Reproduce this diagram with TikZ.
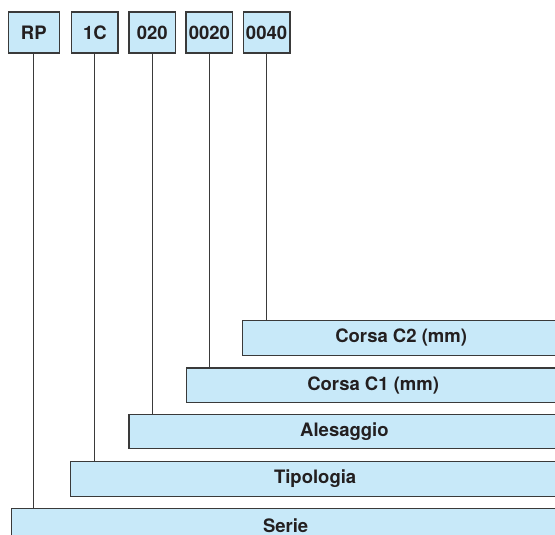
\documentclass[tikz,border=0pt]{standalone}
\usepackage{fontspec}
\setmainfont{TeX Gyre Heros}
\usetikzlibrary{positioning}
\definecolor{cink}{HTML}{231F20}
\definecolor{cline}{HTML}{3A3A3A}
\definecolor{cfill}{HTML}{C8E9F9}

\begin{document}
\begin{tikzpicture}[x=1pt,y=-1pt,
  every node/.style={font=\bfseries\fontsize{18.5}{22}\selectfont,text=cink},
  codebox/.style={draw=cline,fill=cfill,line width=1.6pt,minimum height=41pt,inner sep=0pt,anchor=north west},
  fieldbox/.style={draw=cline,fill=cfill,line width=1.3pt,minimum height=34.5pt,inner sep=0pt,anchor=north west},
  lead/.style={draw=cline,line width=1pt}]
  \useasboundingbox (0,0) rectangle (555,535);
  \clip (0,0) rectangle (555,535);

  % code boxes on top
  \node[codebox,minimum width=51pt] (rp) at (7.5,11.5) {RP};
  \node[codebox,minimum width=46.5pt] (tipo) at (70.8,11.5) {1C};
  \node[codebox,minimum width=46.5pt] (ales) at (128.3,11.5) {020};
  \node[codebox,minimum width=46.5pt] (cone) at (185.3,11.5) {0020};
  \node[codebox,minimum width=46.5pt] (ctwo) at (242.5,11.5) {0040};

  % field boxes, cut at the right edge
  \node[fieldbox,minimum width=317pt] (corsatwo) at (242,320) {Corsa C2 (mm)};
  \node[fieldbox,minimum width=373pt] (corsaone) at (186,367.3) {Corsa C1 (mm)};
  \node[fieldbox,minimum width=431pt] (alesaggio) at (128.3,413.5) {Alesaggio};
  \node[fieldbox,minimum width=489pt] (tipologia) at (70,461) {Tipologia};
  \node[fieldbox,minimum width=548pt] (serie) at (11,507.8) {Serie};

  % leaders
  \draw[lead] (rp.south) -- (rp.south |- serie.north);
  \draw[lead] (tipo.south) -- (tipo.south |- tipologia.north);
  \draw[lead] (ales.south) -- (ales.south |- alesaggio.north);
  \draw[lead] (cone.south) -- (cone.south |- corsaone.north);
  \draw[lead] (ctwo.south) -- (ctwo.south |- corsatwo.north);
\end{tikzpicture}
\end{document}
